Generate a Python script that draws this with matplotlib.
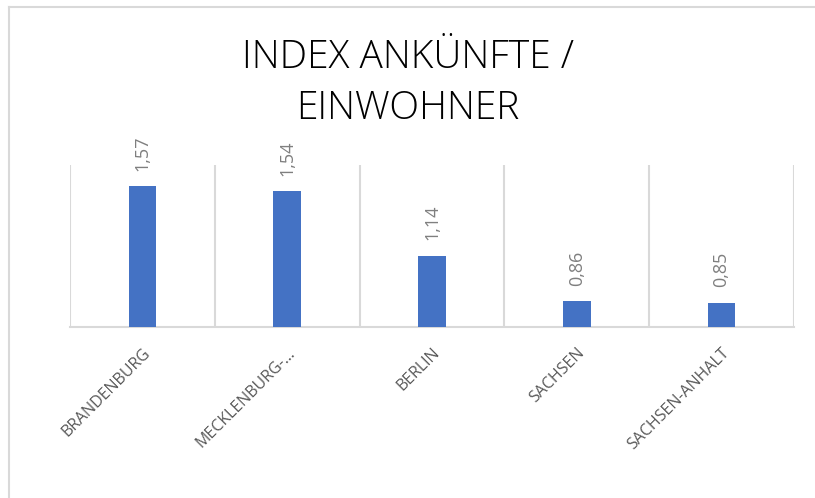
import matplotlib.pyplot as plt
from matplotlib.lines import Line2D

states = ['BRANDENBURG', 'MECKLENBURG-…', 'BERLIN', 'SACHSEN', 'SACHSEN-ANHALT']
index_vals = [1.57, 1.54, 1.14, 0.86, 0.85]
value_labels = ['1,57', '1,54', '1,14', '0,86', '0,85']

W, H = 815, 498
fig = plt.figure(figsize=(W / 100, H / 100), dpi=100)
ax = fig.add_axes([70 / W, 1 - 327 / H, 724 / W, 162 / H])

bar_color = '#4472C4'
grid_color = '#D9D9D9'

x = list(range(len(states)))
ax.bar(x, index_vals, width=0.19, color=bar_color, zorder=3)
ax.set_xlim(-0.5, len(states) - 0.5)
ax.set_ylim(0.7, 1.7)

# category separators
for b in range(len(states) + 1):
    ax.axvline(b - 0.5, color=grid_color, lw=1.5, zorder=1)

for s in ['top', 'right', 'left']:
    ax.spines[s].set_visible(False)
ax.spines['bottom'].set_color(grid_color)
ax.spines['bottom'].set_linewidth(1.5)
ax.set_yticks([])
ax.set_xticks(x)
ax.set_xticklabels(states, rotation=45, ha='right', rotation_mode='anchor',
                   fontsize=11.5, color='#595959', family='Open Sans')
ax.tick_params(axis='x', length=0, pad=13)

for xi, v, lab in zip(x, index_vals, value_labels):
    ax.annotate(lab, (xi, v), xytext=(0, 11), textcoords='offset points',
                rotation=90, ha='center', va='bottom', fontsize=13,
                color='#7F7F7F', family='Open Sans')

fig.text(0.5, 1 - 83 / H, 'INDEX ANKÜNFTE /\nEINWOHNER', ha='center', va='center',
         fontsize=28, family='Open Sans', fontweight='light', linespacing=1.42,
         color='black')

# outer chart border
fig.add_artist(Line2D([9 / W, 1], [1 - 7 / H, 1 - 7 / H], transform=fig.transFigure,
                      color=grid_color, lw=1.5))
fig.add_artist(Line2D([9 / W, 9 / W], [0, 1 - 7 / H], transform=fig.transFigure,
                      color=grid_color, lw=1.5))

fig.savefig('out.png', dpi=100)
